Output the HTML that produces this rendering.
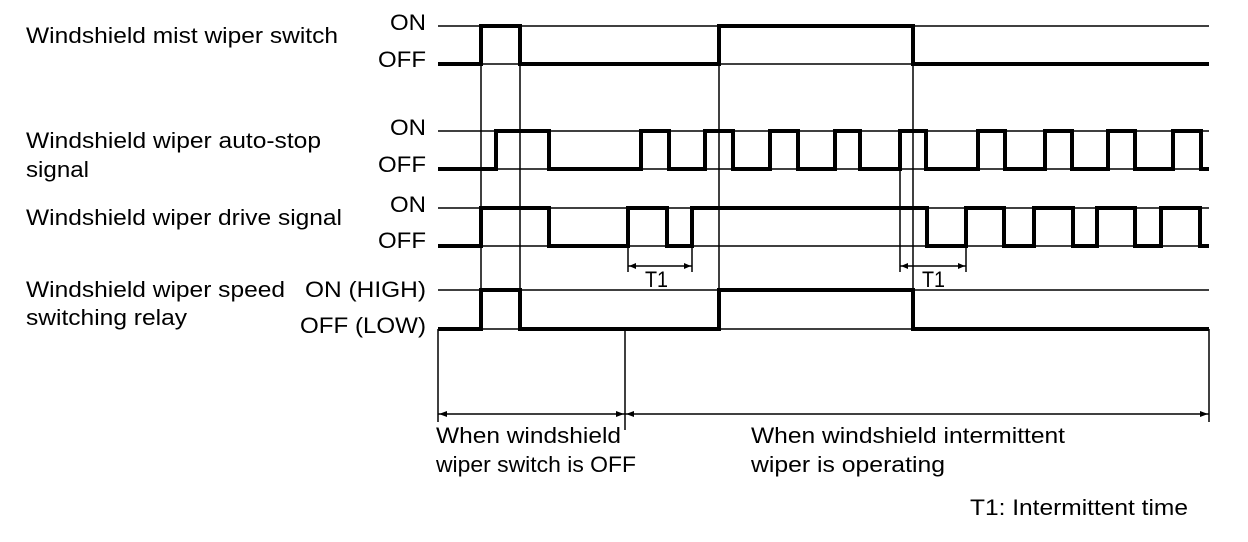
<!DOCTYPE html>
<html><head><meta charset="utf-8"><style>
html,body{margin:0;padding:0;background:#fff;}
svg{display:block;}
text{font-family:"Liberation Sans",Arial,sans-serif;font-size:22px;fill:#000;}
</style></head><body>
<svg width="1248" height="542" viewBox="0 0 1248 542" xmlns="http://www.w3.org/2000/svg">
<g lengthAdjust="spacingAndGlyphs">
<text x="26" y="43" textLength="312" lengthAdjust="spacingAndGlyphs">Windshield mist wiper switch</text>
<text x="26" y="148" textLength="295" lengthAdjust="spacingAndGlyphs">Windshield wiper auto-stop</text>
<text x="26" y="177" textLength="63" lengthAdjust="spacingAndGlyphs">signal</text>
<text x="26" y="225" textLength="316" lengthAdjust="spacingAndGlyphs">Windshield wiper drive signal</text>
<text x="26" y="297" textLength="259" lengthAdjust="spacingAndGlyphs">Windshield wiper speed</text>
<text x="26" y="325" textLength="161" lengthAdjust="spacingAndGlyphs">switching relay</text>
<text x="390" y="30" textLength="36" lengthAdjust="spacingAndGlyphs">ON</text>
<text x="378" y="67" textLength="48" lengthAdjust="spacingAndGlyphs">OFF</text>
<text x="390" y="135" textLength="36" lengthAdjust="spacingAndGlyphs">ON</text>
<text x="378" y="172" textLength="48" lengthAdjust="spacingAndGlyphs">OFF</text>
<text x="390" y="212" textLength="36" lengthAdjust="spacingAndGlyphs">ON</text>
<text x="378" y="248" textLength="48" lengthAdjust="spacingAndGlyphs">OFF</text>
<text x="305" y="297" textLength="121" lengthAdjust="spacingAndGlyphs">ON (HIGH)</text>
<text x="300" y="333" textLength="126" lengthAdjust="spacingAndGlyphs">OFF (LOW)</text>
</g>
<g stroke="#000" stroke-width="1.5" fill="none">
<line x1="438" y1="26" x2="1209" y2="26"/>
<line x1="438" y1="64" x2="1209" y2="64"/>
<line x1="438" y1="131" x2="1209" y2="131"/>
<line x1="438" y1="169" x2="1209" y2="169"/>
<line x1="438" y1="208" x2="1209" y2="208"/>
<line x1="438" y1="246" x2="1209" y2="246"/>
<line x1="438" y1="290" x2="1209" y2="290"/>
<line x1="438" y1="329" x2="1209" y2="329"/>
<line x1="481" y1="26" x2="481" y2="329"/>
<line x1="520" y1="26" x2="520" y2="329"/>
<line x1="719" y1="64" x2="719" y2="290"/>
<line x1="913" y1="64" x2="913" y2="290"/>
<line x1="900" y1="131" x2="900" y2="272"/>
<line x1="628" y1="246" x2="628" y2="272"/>
<line x1="692" y1="246" x2="692" y2="272"/>
<line x1="966" y1="246" x2="966" y2="272"/>
<line x1="628" y1="266" x2="692" y2="266"/>
<line x1="900" y1="266" x2="966" y2="266"/>
<line x1="438" y1="329" x2="438" y2="422"/>
<line x1="625" y1="329" x2="625" y2="430"/>
<line x1="1209" y1="329" x2="1209" y2="422"/>
<line x1="438" y1="414" x2="625" y2="414"/>
<line x1="625" y1="414" x2="1209" y2="414"/>
</g>
<g fill="#000">
<path d="M629 266 l7 -3 v6z"/><path d="M691 266 l-7 -3 v6z"/>
<path d="M901 266 l7 -3 v6z"/><path d="M965 266 l-7 -3 v6z"/>
<path d="M439 414 l8 -3 v6z"/><path d="M624 414 l-8 -3 v6z"/>
<path d="M626 414 l8 -3 v6z"/><path d="M1208 414 l-8 -3 v6z"/>
</g>
<g stroke="#000" stroke-width="4" fill="none" stroke-linejoin="miter">
<polyline points="438,64 481,64 481,26 520,26 520,64 719,64 719,26 913,26 913,64 1209,64"/>
<polyline points="438,169 496,169 496,131 549,131 549,169 641,169 641,131 669,131 669,169 705,169 705,131 733,131 733,169 770,169 770,131 798,131 798,169 835,169 835,131 860,131 860,169 900,169 900,131 926,131 926,169 978,169 978,131 1005,131 1005,169 1045,169 1045,131 1072,131 1072,169 1108,169 1108,131 1135,131 1135,169 1173,169 1173,131 1201,131 1201,169 1209,169"/>
<polyline points="438,246 481,246 481,208 549,208 549,246 628,246 628,208 667,208 667,246 692,246 692,208 927,208 927,246 966,246 966,208 1004,208 1004,246 1034,246 1034,208 1073,208 1073,246 1097,246 1097,208 1135,208 1135,246 1161,246 1161,208 1200,208 1200,246 1209,246"/>
<polyline points="438,329 481,329 481,290 520,290 520,329 719,329 719,290 913,290 913,329 1209,329"/>
</g>
<text x="645" y="287" font-size="20" textLength="23" lengthAdjust="spacingAndGlyphs">T1</text>
<text x="922" y="287" font-size="20" textLength="23" lengthAdjust="spacingAndGlyphs">T1</text>
<text x="436" y="443" textLength="185" lengthAdjust="spacingAndGlyphs">When windshield</text>
<text x="436" y="472" textLength="200" lengthAdjust="spacingAndGlyphs">wiper switch is OFF</text>
<text x="751" y="443" textLength="314" lengthAdjust="spacingAndGlyphs">When windshield intermittent</text>
<text x="751" y="472" textLength="194" lengthAdjust="spacingAndGlyphs">wiper is operating</text>
<text x="970" y="515" textLength="218" lengthAdjust="spacingAndGlyphs">T1: Intermittent time</text>
</svg>
</body></html>
